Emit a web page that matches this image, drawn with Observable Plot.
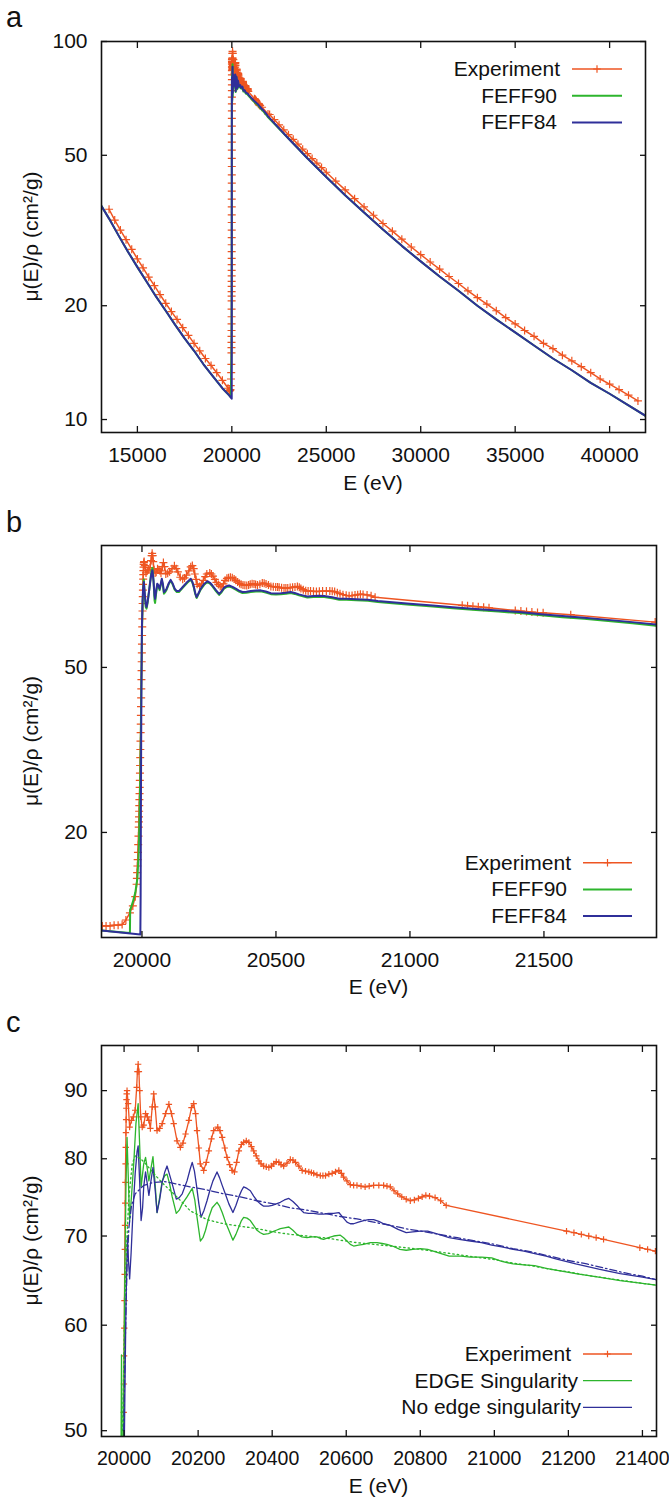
<!DOCTYPE html>
<html><head><meta charset="utf-8">
<script src="https://cdn.jsdelivr.net/npm/d3@7"></script>
<script src="https://cdn.jsdelivr.net/npm/@observablehq/plot@0.6"></script>
<style>
body{margin:0;background:#fff;}
#page{position:relative;width:669px;height:1498px;overflow:hidden;background:#fff;}
.panel{position:absolute;left:0;}
</style></head><body><div id="page"></div>
<script>
// ---------- DATA (E in eV, mu/rho in cm^2/g) ----------
// Panel a: wide-range experiment, pre-edge and post-edge points
const aExpPre = [[13500,36.0],[13800,33.7],[14100,31.7],[14400,29.9],[14700,28.2],[15000,26.6],[15300,25.2],[15600,23.8],[15900,22.6],[16200,21.4],[16500,20.3],[16800,19.3],[17100,18.4],[17400,17.5],[17700,16.7],[18000,15.9],[18300,15.2],[18600,14.5],[18900,13.9],[19200,13.3],[19500,12.7],[19800,12.1]];
const aExpPost = [[22000,64.1],[22250,62.1],[22500,60.2],[22750,58.4],[23000,56.7],[23250,55.1],[23500,53.5],[23750,51.9],[24000,50.5],[24250,49.0],[24500,47.7],[24750,46.4],[25000,45.1],[25500,42.7],[26000,40.5],[26500,38.4],[27000,36.5],[27500,34.7],[28000,33.0],[28500,31.5],[29000,30.0],[29500,28.6],[30000,27.3],[30500,26.1],[31000,25.0],[31500,23.9],[32000,22.9],[32500,21.9],[33000,21.0],[33500,20.2],[34000,19.4],[34500,18.6],[35000,17.9],[35500,17.2],[36000,16.6],[36500,15.9],[37000,15.4],[37500,14.8],[38000,14.3],[38500,13.8],[39000,13.3],[39500,12.8],[40000,12.4],[40500,12.0],[41000,11.6],[41500,11.2]];
const aFeffPre = [[13100,36.7],[13500,34.0],[14000,30.7],[14500,27.8],[15000,25.3],[15500,23.1],[16000,21.1],[16500,19.4],[17000,17.8],[17500,16.4],[18000,15.2],[18500,14.0],[19000,13.0],[19500,12.1]];
const aFeffPost = [[23000,55.4],[24000,49.1],[25000,43.8],[26000,39.2],[27000,35.3],[28000,31.8],[29000,28.8],[30000,26.2],[31000,23.9],[32000,21.9],[33000,20.0],[34000,18.4],[35000,17.0],[36000,15.7],[37000,14.5],[38000,13.5],[39000,12.5],[40000,11.7],[41000,10.9],[41900,10.23]];

// Near-edge experiment (panels b, c, and the edge region of a)
const expXanes = [[19852,11.9],[19866,11.9],[19881,11.9],[19896,11.95],[19911,11.95],[19926,12.0],[19940,12.3],[19955,12.8],[19966,13.3],[19975,14.0],[19980,15.0],[19981,15.5],[19982,16.0],[19983,16.6],[19984,17.2],[19985,17.9],[19986,18.7],[19987,19.6],[19988,20.6],[19988.5,21.2],[19989,21.8],[19989.5,22.5],[19990,23.2],[19990.5,24.0],[19991,24.8],[19991.5,25.7],[19992,26.7],[19992.5,27.8],[19993,29.0],[19993.5,30.3],[19994,31.7],[19994.5,33.2],[19995,34.8],[19995.5,36.5],[19996,38.3],[19996.5,40.2],[19997,42.2],[19997.5,44.4],[19998,46.7],[19998.5,49.1],[19999,51.6],[19999.5,54.2],[20000,56.9],[20000.5,59.7],[20001,62.6],[20001.5,65.5],[20002,68.4],[20002.5,71.3],[20003,74.1],[20003.5,76.8],[20004,79.3],[20004.5,81.6],[20005,83.7],[20005.5,85.6],[20006,87.3],[20006.5,88.6],[20007,89.5],[20008,90.0],[20011,88.0],[20015,84.5],[20020,85.5],[20025,86.0],[20030,87.0],[20034,90.5],[20036,93.0],[20038,94.2],[20040,93.0],[20042,90.0],[20045,86.0],[20049,84.5],[20053,84.8],[20058,86.5],[20063,86.0],[20067,85.5],[20071,84.3],[20076,87.5],[20080,89.5],[20084,87.5],[20089,84.0],[20096,84.3],[20103,85.0],[20112,86.5],[20121,87.9],[20128,86.5],[20134,85.0],[20143,82.5],[20152,81.6],[20159,82.2],[20166,83.5],[20175,85.5],[20182,87.4],[20188,88.0],[20193,86.5],[20197,84.0],[20202,81.5],[20206,79.3],[20215,78.4],[20222,79.5],[20229,81.1],[20236,82.8],[20242,84.0],[20253,84.5],[20259,84.0],[20265,83.0],[20272,81.5],[20278,80.2],[20285,79.2],[20292,78.4],[20298,78.2],[20304,79.5],[20310,81.1],[20317,82.0],[20323,82.3],[20330,82.5],[20337,82.3],[20344,81.7],[20350,81.1],[20357,80.4],[20364,79.7],[20370,79.3],[20377,79.0],[20384,78.9],[20391,78.8],[20398,79.0],[20404,79.3],[20411,79.6],[20418,79.5],[20424,79.2],[20431,79.0],[20440,79.4],[20449,79.9],[20456,79.8],[20463,79.5],[20472,79.0],[20481,78.4],[20490,78.3],[20499,78.2],[20506,78.1],[20512,78.0],[20521,77.8],[20530,77.7],[20537,77.7],[20544,77.7],[20553,77.9],[20562,78.0],[20571,78.2],[20580,78.4],[20587,78.0],[20593,77.5],[20602,77.0],[20611,76.5],[20620,76.4],[20629,76.4],[20640,76.3],[20651,76.2],[20662,76.3],[20674,76.4],[20688,76.4],[20701,76.4],[20710,76.3],[20719,76.2],[20729,75.7],[20739,75.3],[20750,74.9],[20762,74.6],[20773,74.4],[20784,74.5],[20795,74.7],[20805,74.9],[20815,75.1],[20825,75.0],[20840,74.8],[20855,74.4],[20870,73.8],[21195,70.6],[21215,70.4],[21235,70.2],[21255,70.0],[21275,69.8],[21295,69.6],[21393,68.6],[21414,68.4],[21435,68.2],[21455,68.0],[21476,67.8],[21497,67.7],[21600,67.0],[21915,64.3]];

// Panel b: FEFF calculations near the edge
const bFeff84 = [[19849,11.6],[19994,11.35],[19995,14],[19996,22],[19997,33],[19998,45],[19999,55],[20000,63],[20002,72],[20004,77],[20007,80.3],[20010,76],[20014,71],[20017,69.9],[20021,72],[20026,76],[20031,80.5],[20035,84],[20039,85.7],[20043,81],[20047,74.5],[20049,73.2],[20053,76.5],[20057,79.6],[20061,79],[20066,77.4],[20070,79.5],[20074,81.8],[20078,79.5],[20082,76.0],[20087,76.5],[20092,77.4],[20100,79.8],[20107,81.3],[20114,79.8],[20122,77.4],[20130,76.4],[20138,76.4],[20147,77.5],[20157,78.8],[20170,80.5],[20182,81.8],[20188,80.5],[20194,78.1],[20199,75.5],[20204,73.9],[20211,75.5],[20219,77.4],[20232,79.5],[20244,80.7],[20254,80.0],[20263,78.8],[20276,76.8],[20288,75.2],[20297,76.3],[20306,77.8],[20315,78.5],[20325,78.8],[20338,78.2],[20350,77.4],[20362,76.6],[20375,76.0],[20390,76.1],[20406,76.4],[20425,76.6],[20443,76.7],[20462,76.2],[20481,75.5],[20500,75.4],[20518,75.5],[20537,75.7],[20555,76.0],[20570,75.6],[20586,75.0],[20600,74.6],[20617,74.1],[20640,74.3],[20660,74.4],[20680,74.3],[20710,73.8],[20736,73.2],[20763,73.2],[20800,73.0],[20843,72.8],[20880,72.3],[20923,71.9],[21000,71.2],[21085,70.5],[21160,69.8],[21246,69.2],[21330,68.6],[21408,68.0],[21490,67.2],[21569,66.5],[21650,65.9],[21730,65.2],[21830,64.3],[21920,63.4]];
const bFeff90 = [[19849,11.6],[19955,11.45],[19956,13.0],[19966,13.6],[19975,14.3],[19983,15.5],[19988,18],[19991,22],[19994,28],[19996,36],[19998,48],[20000,60],[20002,70],[20004,76],[20007,81.5],[20010,75],[20014,70],[20017,69.3],[20021,71.5],[20026,76],[20031,81],[20035,85],[20039,87.0],[20043,81],[20047,72.5],[20049,71.5],[20053,75.5],[20057,79.0],[20061,78.5],[20066,76.8],[20070,79],[20074,81.2],[20078,79],[20082,75.3],[20087,76],[20092,77.0],[20100,79.4],[20107,80.9],[20114,79.4],[20122,77.0],[20130,76.0],[20138,76.0],[20147,77.1],[20157,78.4],[20170,80.1],[20182,81.4],[20188,80.1],[20194,77.7],[20199,75.1],[20204,73.5],[20211,75.1],[20219,77.0],[20232,79.1],[20244,80.3],[20254,79.6],[20263,78.4],[20276,76.4],[20288,74.8],[20297,75.9],[20306,77.4],[20315,78.1],[20325,78.4],[20338,77.8],[20350,77.0],[20362,76.2],[20375,75.6],[20390,75.7],[20406,76.0],[20425,76.2],[20443,76.3],[20462,75.8],[20481,75.1],[20500,75.0],[20518,75.1],[20537,75.3],[20555,75.6],[20570,75.2],[20586,74.6],[20600,74.2],[20617,73.7],[20640,73.9],[20660,74.0],[20680,73.9],[20710,73.4],[20736,72.8],[20763,72.8],[20800,72.6],[20843,72.4],[20880,71.9],[20923,71.5],[21000,70.8],[21085,70.1],[21160,69.4],[21246,68.8],[21330,68.2],[21408,67.6],[21490,66.8],[21569,66.1],[21650,65.5],[21730,64.8],[21830,63.9],[21920,63.0]];

// Panel c: with / without edge singularity, and their smooth backgrounds
const cEdge = [[19988,30],[19993,57],[19997,42],[20001,62],[20005,76],[20008,83],[20011,78],[20015,71.9],[20020,75],[20026,79.3],[20032,85],[20038,88],[20042,82],[20046,76.2],[20053,79.3],[20058,80.2],[20063,78.5],[20067,77.0],[20072,78.5],[20078,80.3],[20084,76.5],[20089,72.9],[20096,74.8],[20103,77.0],[20110,77.7],[20116,77.9],[20123,76.6],[20130,74.9],[20141,72.8],[20149,73.2],[20157,74.0],[20170,74.9],[20184,76.0],[20191,74.5],[20197,72.3],[20206,69.4],[20213,69.8],[20220,70.7],[20229,72.3],[20238,73.5],[20251,74.2],[20258,73.7],[20265,72.9],[20274,71.7],[20283,70.7],[20294,69.5],[20302,70.2],[20310,71.1],[20317,71.9],[20323,72.3],[20332,72.2],[20341,71.9],[20350,71.3],[20359,70.7],[20368,70.4],[20377,70.2],[20390,70.3],[20400,70.5],[20411,70.7],[20422,70.9],[20433,71.0],[20445,71.1],[20456,70.7],[20467,70.2],[20480,69.9],[20494,69.8],[20508,69.9],[20521,69.9],[20530,69.7],[20539,69.6],[20552,69.8],[20566,70.0],[20584,70.1],[20593,69.8],[20602,69.4],[20611,69.0],[20620,68.8],[20633,68.9],[20647,69.0],[20665,69.2],[20683,69.2],[20697,69.1],[20710,69.0],[20725,68.8],[20745,68.4],[20762,68.3],[20780,68.4],[20800,68.5],[20820,68.4],[20850,68.0],[20878,67.6],[20910,67.6],[20935,67.5],[20965,67.5],[20993,67.4],[21020,67.0],[21051,66.7],[21080,66.6],[21109,66.5],[21140,66.2],[21166,66.0],[21220,65.6],[21282,65.2],[21340,64.8],[21400,64.5],[21438,64.3]];
const cNoEdge = [[19995,30],[20001,50],[20005,62],[20009,70],[20012,67],[20015,65],[20019,68],[20024,73],[20030,78],[20035,81],[20038,81.8],[20042,77],[20046,71.9],[20050,73.5],[20053,76.2],[20058,78.2],[20063,76.5],[20067,75.1],[20072,76.8],[20078,78.8],[20084,75.8],[20089,72.9],[20096,74.5],[20103,76.8],[20110,78.2],[20116,79.0],[20123,77.8],[20130,76.6],[20141,74.6],[20149,74.8],[20157,75.3],[20170,77.0],[20178,78.5],[20184,79.5],[20190,78.3],[20195,76.6],[20202,74.0],[20208,72.3],[20216,73.2],[20224,74.4],[20232,75.8],[20240,77.0],[20251,78.2],[20258,77.4],[20265,76.4],[20274,75.2],[20283,74.0],[20294,72.9],[20302,73.8],[20310,74.9],[20317,75.7],[20323,76.2],[20332,76.0],[20341,75.7],[20350,75.0],[20359,74.4],[20368,74.0],[20377,73.7],[20390,73.7],[20400,73.8],[20411,74.0],[20422,74.2],[20433,74.5],[20445,74.7],[20456,74.3],[20467,73.8],[20476,73.3],[20485,72.9],[20498,72.8],[20512,72.8],[20526,72.7],[20539,72.7],[20552,72.8],[20566,72.8],[20580,72.9],[20591,72.3],[20602,71.7],[20611,71.5],[20620,71.5],[20633,71.7],[20647,71.9],[20660,72.0],[20674,72.0],[20688,71.8],[20701,71.5],[20719,71.3],[20740,70.8],[20762,70.4],[20780,70.5],[20800,70.6],[20820,70.6],[20850,70.2],[20878,69.8],[20905,69.6],[20935,69.4],[20965,69.2],[20993,68.9],[21020,68.7],[21051,68.4],[21080,68.2],[21109,67.9],[21140,67.6],[21166,67.3],[21220,66.7],[21282,66.1],[21340,65.6],[21400,65.2],[21438,64.9]];
const cEdgeBg = [[19996,50],[20001,60],[20006,68],[20013,74.9],[20022,79.3],[20030,80.4],[20045,80.0],[20060,79.2],[20075,78.3],[20089,77.5],[20110,76.4],[20134,75.3],[20157,74.2],[20179,73.1],[20200,72.6],[20224,72.0],[20269,71.5],[20314,71.2],[20359,70.9],[20404,70.5],[20449,70.2],[20494,70.0],[20539,69.8],[20584,69.5],[20629,69.2],[20674,69.0],[20719,68.8],[20760,68.6],[20800,68.4],[20850,68.1],[20900,67.8],[20950,67.5],[21000,67.2],[21050,66.8],[21100,66.5],[21150,66.1],[21200,65.8],[21250,65.4],[21300,65.1],[21350,64.8],[21400,64.5],[21438,64.3]];
const cNoEdgeBg = [[19999,50],[20003,58],[20008,66.7],[20013,71],[20020,73.8],[20030,75.3],[20053,76.4],[20080,76.8],[20110,76.9],[20140,76.6],[20179,76.2],[20224,75.8],[20269,75.3],[20314,74.9],[20359,74.4],[20404,74.0],[20449,73.5],[20494,73.2],[20539,72.8],[20584,72.4],[20629,72.1],[20674,71.7],[20719,71.3],[20760,70.9],[20800,70.6],[20850,70.2],[20900,69.8],[20950,69.4],[21000,69.0],[21050,68.5],[21100,68.1],[21150,67.6],[21200,67.1],[21250,66.7],[21300,66.2],[21350,65.7],[21400,65.3],[21438,64.9]];

// Tick values
const aXTicks = [15000, 20000, 25000, 30000, 35000, 40000];
const aYTicks = [10, 20, 50, 100];
const bXTicks = [20000, 20500, 21000, 21500];
const bYTicks = [20, 50];
const cXTicks = [20000, 20200, 20400, 20600, 20800, 21000, 21200, 21400];
const cYTicks = [50, 60, 70, 80, 90];

// Legend labels
const abLabels = ["Experiment", "FEFF90", "FEFF84"];
const cLabels = ["Experiment", "EDGE Singularity", "No edge singularity"];

// ---------- DRAWING ----------
const ORANGE = "#ee5522", GREEN = "#2db52d", BLUE = "#2f2f99";
const FONT = '"Liberation Sans", Arial, Helvetica, sans-serif';
const rows = pairs => pairs.map(([E, mu]) => ({E, mu}));

function drawPanel(cfg) {
  const marks = [];
  for (const s of cfg.series) {
    const d = rows(s.data);
    marks.push(Plot.line(d, {x: "E", y: "mu", stroke: s.color, strokeWidth: s.width, strokeDasharray: s.dash, clip: true}));
    if (s.marker) marks.push(Plot.dot(d, {x: "E", y: "mu", symbol: "plus", r: s.r, stroke: s.color, strokeWidth: 1.2, clip: true}));
  }
  marks.push(
    Plot.frame({stroke: "#111", strokeWidth: 1.6}),
    Plot.axisX({anchor: "bottom", ticks: cfg.xTicks, tickSize: -6, tickPadding: 21, tickFormat: d => String(d), label: null, strokeWidth: 1.3, fontSize: cfg.xTickFont}),
    Plot.axisX({anchor: "top", ticks: cfg.xTicks, tickSize: -6, tickPadding: 0, tickFormat: () => "", label: null, strokeWidth: 1.3}),
    Plot.axisY({anchor: "left", ticks: cfg.yTicks, tickSize: -6, tickPadding: 20, tickFormat: d => String(d), label: null, strokeWidth: 1.3}),
    Plot.axisY({anchor: "right", ticks: cfg.yTicks, tickSize: -6, tickPadding: 0, tickFormat: () => "", label: null, strokeWidth: 1.3})
  );
  const svg = Plot.plot({
    width: 669, height: cfg.height,
    marginLeft: 101, marginRight: cfg.mr, marginTop: cfg.mt, marginBottom: cfg.mb,
    x: {type: "linear", domain: cfg.xDomain},
    y: {type: "log", domain: cfg.yDomain},
    style: {fontFamily: FONT, fontSize: "21px", background: "white", color: "#111"},
    marks
  });
  const s = d3.select(svg);
  s.append("text").attr("x", 6).attr("y", cfg.letterY).attr("text-anchor", "start")
    .style("font-size", "29px").text(cfg.letter);
  s.append("text").attr("x", (101 + 669 - cfg.mr) / 2).attr("y", cfg.xLabelY)
    .attr("text-anchor", "middle").text("E (eV)");
  s.append("text").attr("transform", `translate(38,${(cfg.mt + cfg.height - cfg.mb) / 2}) rotate(-90)`)
    .attr("text-anchor", "middle").text("μ(E)/ρ (cm²/g)");
  const lg = cfg.legend;
  cfg.series.slice(0, 3).forEach((ser, i) => {
    const y = lg.y0 + i * lg.dy;
    s.append("text").attr("x", lg.textEnd[i]).attr("y", y + 7).attr("text-anchor", "end").text(lg.labels[i]);
    s.append("line").attr("x1", lg.x1).attr("x2", lg.x2).attr("y1", y).attr("y2", y)
      .attr("stroke", ser.color).attr("stroke-width", ser.width);
    if (ser.marker) {
      const cx = (lg.x1 + lg.x2) / 2, h = ser.half;
      s.append("path").attr("d", `M${cx - h},${y}H${cx + h}M${cx},${y - h}V${y + h}`)
        .attr("stroke", ser.color).attr("stroke-width", 1.2).attr("fill", "none");
    }
  });
  const div = document.createElement("div");
  div.className = "panel";
  div.style.top = cfg.top + "px";
  div.appendChild(svg);
  document.getElementById("page").appendChild(div);
}

drawPanel({
  top: 0, height: 500, mt: 41, mb: 68, mr: 24,
  xDomain: [13100, 41900], yDomain: [9.24, 100], xTicks: aXTicks, yTicks: aYTicks,
  letter: "a", letterY: 27, xLabelY: 490, xTickFont: 21,
  series: [
    {data: [...aExpPre, ...expXanes, ...aExpPost], color: ORANGE, width: 1.5, marker: true, r: 2.7, half: 3.8},
    {data: [...aFeffPre, ...bFeff90, ...aFeffPost], color: GREEN, width: 2},
    {data: [...aFeffPre, ...bFeff84, ...aFeffPost], color: BLUE, width: 2}
  ],
  legend: {labels: abLabels, y0: 69, dy: 26.7, textEnd: [560, 557, 557], x1: 572, x2: 622}
});

drawPanel({
  top: 500, height: 500, mt: 45, mb: 63, mr: 13,
  xDomain: [19849, 21920], yDomain: [11.16, 98.4], xTicks: bXTicks, yTicks: bYTicks,
  letter: "b", letterY: 32, xLabelY: 494, xTickFont: 21,
  series: [
    {data: expXanes, color: ORANGE, width: 1.5, marker: true, r: 2.7, half: 3.8},
    {data: bFeff90, color: GREEN, width: 2},
    {data: bFeff84, color: BLUE, width: 2}
  ],
  legend: {labels: abLabels, y0: 362.7, dy: 26.7, textEnd: [571, 567, 567], x1: 583, x2: 632}
});

drawPanel({
  top: 1000, height: 498, mt: 45, mb: 62, mr: 13,
  xDomain: [19939, 21438], yDomain: [49.5, 97.3], xTicks: cXTicks, yTicks: cYTicks,
  letter: "c", letterY: 32, xLabelY: 493, xTickFont: 19.5,
  series: [
    {data: expXanes, color: ORANGE, width: 1.3, marker: true, r: 2.2, half: 3.2},
    {data: cEdge, color: GREEN, width: 1.3},
    {data: cNoEdge, color: BLUE, width: 1.3},
    {data: cEdgeBg, color: GREEN, width: 1.3, dash: "1.5,3"},
    {data: cNoEdgeBg, color: BLUE, width: 1.3, dash: "7,3,1.5,3"}
  ],
  legend: {labels: cLabels, y0: 354, dy: 26.7, textEnd: [571, 578, 581], x1: 583, x2: 632}
});
</script></body></html>
